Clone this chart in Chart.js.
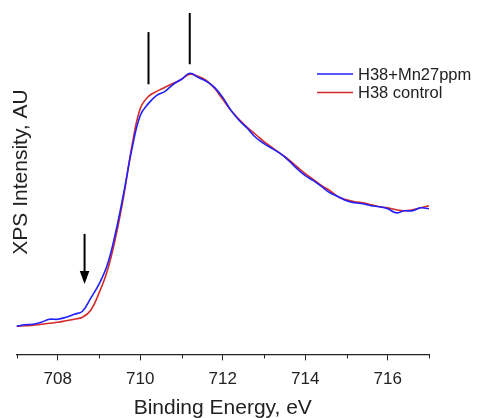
<!DOCTYPE html>
<html>
<head>
<meta charset="utf-8">
<script src="https://cdn.jsdelivr.net/npm/chart.js@4/dist/chart.umd.min.js"></script>
<style>
  html, body { margin: 0; padding: 0; background: #fff; }
  #wrap { width: 478px; height: 418px; }
</style>
</head>
<body>
<div id="wrap"><canvas id="xps"></canvas></div>
<script>
// binding energy, eV (0.2 eV steps)
var energy = [];
for (var i = 0; i <= 50; i++) energy.push(+(707 + i * 0.2).toFixed(1));

var mnValues = [28, 29.5, 30, 32, 35, 35, 37, 40, 43, 56, 70, 89, 121, 161, 205, 238, 250, 258, 262, 269,
    274, 280, 276, 272, 266, 256, 243, 233, 225, 216, 210, 205, 200, 193, 185, 178, 173, 167, 161, 157,
    153, 151, 150, 148, 147, 145, 141, 143, 143, 146, 145];
var controlValues = [28, 28.5, 29, 30, 31, 32, 33.5, 35, 37, 44, 61, 83, 116, 158, 208, 245, 257, 262, 266, 270,
    274, 279, 277, 273, 265, 254, 243, 234, 226, 219, 212, 206, 200, 194, 187, 180, 174, 168, 163, 157,
    154, 152, 151, 149, 147, 146, 144, 143, 144, 146, 148];

var seriesNames = ["H38+Mn27ppm", "H38 control"];
var seriesColors = ["#1f1fff", "#d42a2a"];

// peak markers: energy, bottom, top (AU)
var markerEnergy = [710.2, 711.2];
var markerBottom = [269, 289];
var markerTop = [321, 340];
// arrow: energy, from, to
var arrowEnergy = 708.65;
var arrowFrom = 120;
var arrowTo = 70;

var FONT = '"Liberation Sans", Arial, sans-serif';

function pts(vals) {
    return vals.map(function (v, i) { return {x: energy[i], y: v}; });
}

var extras = {
    id: 'extras',
    afterDraw: function (chart) {
        var c = chart.ctx, xs = chart.scales.x, ys = chart.scales.y;
        var base = chart.chartArea.bottom;
        c.save();
        // minor ticks
        c.strokeStyle = '#222';
        c.lineWidth = 1;
        for (var e = 707; e <= 717; e += 2) {
            var px = Math.round(xs.getPixelForValue(e)) + 0.5;
            c.beginPath(); c.moveTo(px, base); c.lineTo(px, base + 4); c.stroke();
        }
        // peak markers
        c.strokeStyle = '#000';
        c.lineWidth = 2;
        markerEnergy.forEach(function (en, k) {
            var x = xs.getPixelForValue(en);
            c.beginPath();
            c.moveTo(x, ys.getPixelForValue(markerBottom[k]));
            c.lineTo(x, ys.getPixelForValue(markerTop[k]));
            c.stroke();
        });
        // arrow
        var ax = xs.getPixelForValue(arrowEnergy);
        var y0 = ys.getPixelForValue(arrowFrom), y1 = ys.getPixelForValue(arrowTo);
        c.beginPath(); c.moveTo(ax, y0); c.lineTo(ax, y1 - 10); c.stroke();
        c.fillStyle = '#000';
        c.beginPath();
        c.moveTo(ax - 4.8, y1 - 13);
        c.lineTo(ax + 4.8, y1 - 13);
        c.lineTo(ax, y1);
        c.closePath(); c.fill();
        // legend
        c.lineWidth = 1.6;
        c.font = '16.5px ' + FONT;
        c.textBaseline = 'middle';
        c.fillStyle = '#222';
        var ly = [74, 92.5];
        seriesNames.forEach(function (n, k) {
            c.strokeStyle = seriesColors[k];
            c.beginPath(); c.moveTo(317, ly[k]); c.lineTo(353, ly[k]); c.stroke();
            c.fillText(n, 358, ly[k] + 1);
        });
        // y title
        c.translate(20, 172);
        c.rotate(-Math.PI / 2);
        c.font = '21px ' + FONT;
        c.textAlign = 'center';
        c.fillText('XPS Intensity, AU', 0, 1);
        c.restore();
    }
};

new Chart(document.getElementById('xps'), {
    type: 'line',
    data: {
        datasets: [
            {
                label: seriesNames[0],
                data: pts(mnValues),
                borderColor: seriesColors[0],
                borderWidth: 1.6,
                pointRadius: 0,
                tension: 0.4
            },
            {
                label: seriesNames[1],
                data: pts(controlValues),
                borderColor: seriesColors[1],
                borderWidth: 1.6,
                pointRadius: 0,
                tension: 0.4
            }
        ]
    },
    options: {
        responsive: true,
        maintainAspectRatio: false,
        animation: false,
        layout: {padding: {left: 16.5, right: 49, top: 10, bottom: -3}},
        plugins: {legend: {display: false}, tooltip: {enabled: false}},
        scales: {
            x: {
                type: 'linear',
                min: 707,
                max: 717,
                grid: {
                    drawOnChartArea: false,
                    tickLength: 6,
                    tickColor: function (ctx) { return ctx.tick && ctx.tick.value % 2 === 0 ? '#222' : 'rgba(0,0,0,0)'; }
                },
                border: {display: true, color: '#222', width: 1.2},
                ticks: {
                    stepSize: 1,
                    autoSkip: false,
                    maxRotation: 0,
                    padding: 9,
                    color: '#222',
                    font: {family: FONT, size: 17},
                    callback: function (v) { return v % 2 === 0 ? v : ''; }
                },
                title: {
                    display: true,
                    text: 'Binding Energy, eV',
                    color: '#222',
                    font: {family: FONT, size: 21},
                    padding: {top: -3, bottom: 0}
                }
            },
            y: {
                display: false,
                min: 0,
                max: 343
            }
        }
    },
    plugins: [extras]
});
</script>
</body>
</html>
